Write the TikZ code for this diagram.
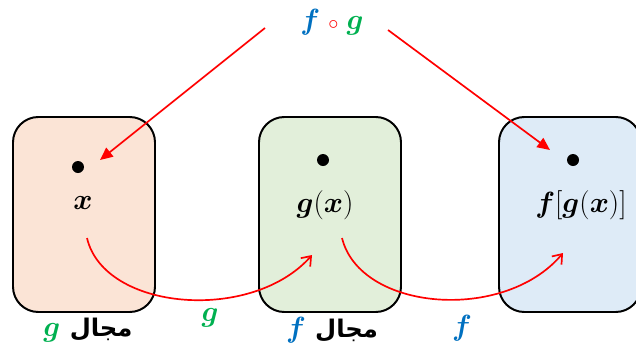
\documentclass[tikz,border=0pt]{standalone}
\usepackage{amsmath,bm}
\usepackage{fontspec}
\newfontfamily\arabicfont[Script=Arabic]{DejaVu Sans}
\TeXXeTstate=1
\usetikzlibrary{arrows.meta}
\definecolor{gcol}{RGB}{0,176,80}
\definecolor{fcol}{RGB}{0,112,192}
\definecolor{boxone}{RGB}{251,228,214}
\definecolor{boxtwo}{RGB}{226,239,218}
\definecolor{boxthree}{RGB}{222,235,247}
\newcommand{\domword}{{\arabicfont\bfseries\LARGE\beginR مجال\endR}}
\begin{document}
\begin{tikzpicture}[thick,
  setbox/.style={draw, line width=1.4pt, rounded corners=18pt,
    minimum width=3.55cm, minimum height=4.875cm},
  elem/.style={circle, fill, inner sep=0pt, minimum size=0.3cm},
  mapone/.style={red, line width=1.2pt, -{Triangle[length=9pt, width=8pt]}},
  maptwo/.style={red, line width=1.2pt, -{Straight Barb[length=6pt, width=9pt]}},
  lbl/.style={font=\fontsize{22}{24}\selectfont},
]
  \useasboundingbox (0,0) rectangle (15.9,8.675);
  % three sets
  \node[setbox, fill=boxone]   (A) at (2.1,3.3125) {};
  \node[setbox, fill=boxtwo]   (B) at (8.25,3.3125) {};
  \node[setbox, fill=boxthree] (C) at (14.25,3.3125) {};
  % elements
  \node[elem] (a) at (1.95,4.5) {};
  \node[elem] (b) at (8.075,4.675) {};
  \node[elem] (c) at (14.325,4.675) {};
  \node[lbl] (xa) at (2.075,3.6)  {$\bm{x}$};
  \node[lbl] (xb) at (8.125,3.55) {$\bm{g}(\bm{x})$};
  \node[lbl] (xc) at (14.525,3.55) {$\bm{f}[\bm{g}(\bm{x})]$};
  % composite
  \node[lbl] (fg) at (8.3,8.125) {$\color{fcol}\bm{f}\;{\color{red}\scriptstyle\circ}\;\color{gcol}\bm{g}$};
  \coordinate (fgl) at (6.625,7.975);
  \coordinate (fgr) at (9.7,7.925);
  \coordinate (ta) at (2.5,4.675);
  \coordinate (tc) at (13.75,4.925);
  \draw[mapone] (fgl) -- (ta);
  \draw[mapone] (fgr) -- (tc);
  % g and f maps
  \coordinate (sa) at (2.175,2.725);
  \coordinate (eb) at (7.8,2.3);
  \coordinate (sb) at (8.55,2.725);
  \coordinate (ec) at (14.075,2.35);
  \draw[maptwo] (sa) .. controls (2.6,0.9) and (6.3,0.6) .. (eb);
  \draw[maptwo] (sb) .. controls (9.0,0.9) and (12.6,0.6) .. (ec);
  \node[lbl] (g) at (5.25,0.725) {$\color{gcol}\bm{g}$};
  \node[lbl] (f) at (11.55,0.475) {$\color{fcol}\bm{f}$};
  % domains
  \node[lbl] (da) at (2.2,0.425) {$\color{gcol}\bm{g}$\ \domword};
  \node[lbl] (db) at (8.3,0.425) {$\color{fcol}\bm{f}$\ \domword};
\end{tikzpicture}
\end{document}
